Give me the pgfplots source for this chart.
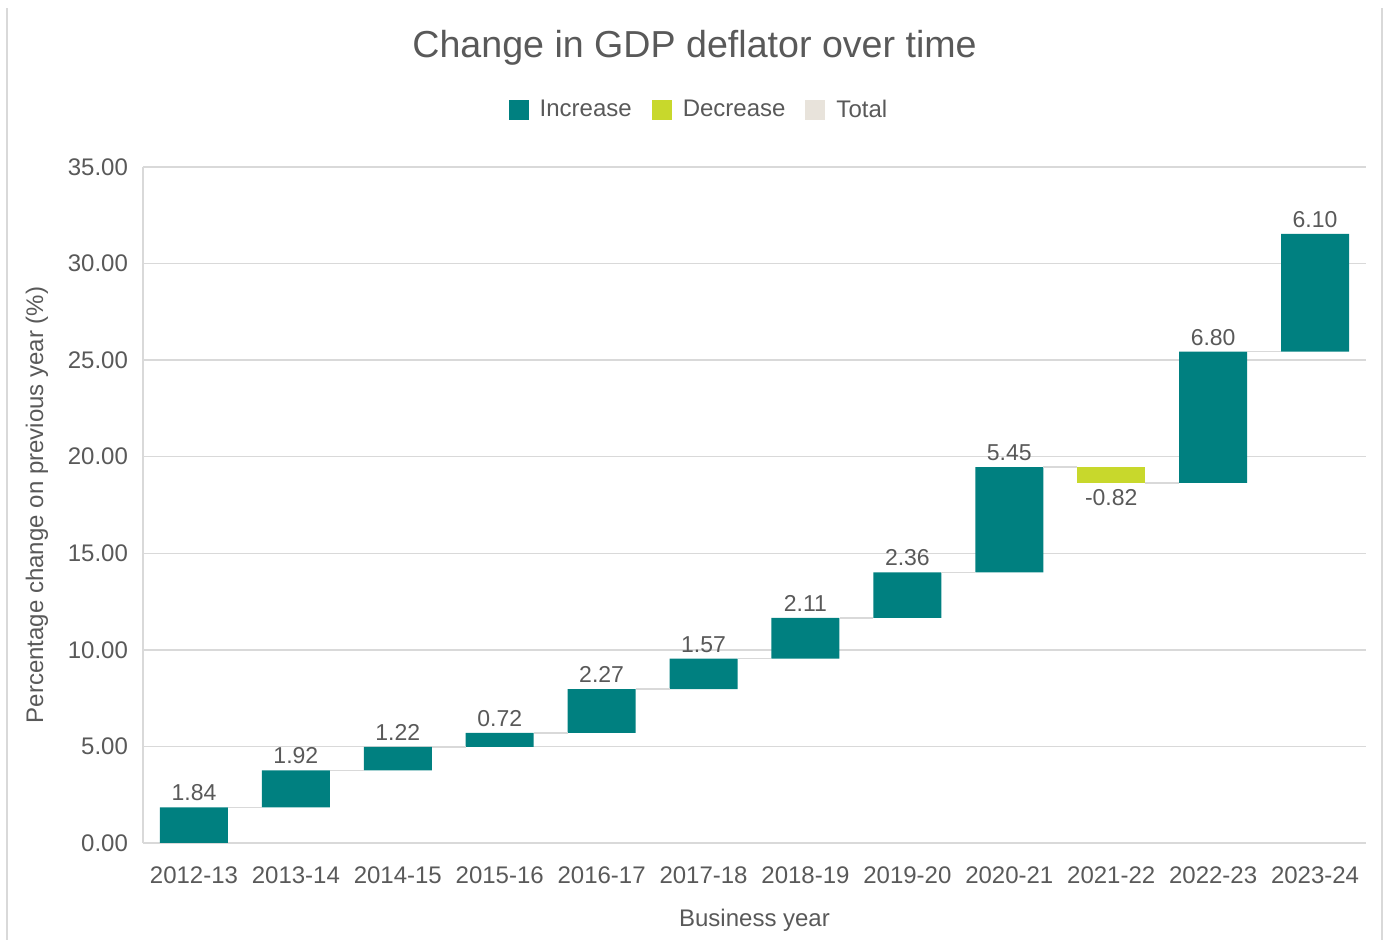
\documentclass[border=0pt]{standalone}
\usepackage{fontspec}
\setmainfont{Liberation Sans}
\usepackage{pgfplots}
\pgfplotsset{compat=1.18}

\definecolor{incr}{RGB}{0,128,128}
\definecolor{decr}{RGB}{200,216,44}
\definecolor{totl}{RGB}{232,227,219}
\definecolor{txt}{RGB}{89,89,89}
\definecolor{grd}{RGB}{217,217,217}

\pgfplotsset{
  frame/.style={width=611.5pt, height=338pt, scale only axis,
    xmin=-0.5, xmax=11.5, ymin=0, ymax=35,
    at={(0,0)}, anchor=south west},
}

\begin{document}
\begin{tikzpicture}
\begin{axis}[frame,
  ybar stacked,
  bar width=34pt,
  axis x line*=bottom, axis y line*=left,
  axis line style={grd, line width=0.75pt},
  ymajorgrids, grid style={grd, line width=0.75pt},
  major tick length=0pt,
  ytick={0,5,...,35},
  xtick={0,...,11},
  xticklabels={2012-13,2013-14,2014-15,2015-16,2016-17,2017-18,2018-19,2019-20,2020-21,2021-22,2022-23,2023-24},
  /pgf/number format/.cd, fixed, fixed zerofill, precision=2, assume math mode=true, /pgfplots/.cd,
  tick label style={font=\fontsize{12}{14}\selectfont, text=txt},
  yticklabel style={xshift=-4pt},
  xticklabel style={yshift=-8.5pt},
  xlabel={Business year},
  ylabel={Percentage change on previous year (\%)},
  label style={font=\fontsize{12}{14}\selectfont, text=txt},
  xlabel style={at={(axis description cs:0.5,0)}, anchor=center, yshift=-38.5pt},
  ylabel style={at={(axis description cs:-0.0867,0.5)}, anchor=center},
  title={Change in GDP deflator over time},
  title style={font=\fontsize{18.8}{22}\selectfont, text=txt,
    at={(axis description cs:0.451,1)}, anchor=center, yshift=53.5pt},
  legend columns=3,
  legend style={draw=none, fill=none, font=\fontsize{12}{14}\selectfont, text=txt,
    at={(axis description cs:0.4554,1)}, anchor=center, yshift=28.5pt,
    /tikz/every odd column/.append style={column sep=3.5pt},
    /tikz/every even column/.append style={column sep=8pt}},
  legend image code/.code={\fill[#1] (0pt,-5pt) rectangle (10pt,5pt);},
]
% invisible base of each floating bar
\addplot[draw=none, fill=none, forget plot] coordinates {
  (0,0) (1,1.84) (2,3.76) (3,4.98) (4,5.70) (5,7.97)
  (6,9.54) (7,11.65) (8,14.01) (9,18.64) (10,18.64) (11,25.44)};
\addplot[draw=none, fill=incr] coordinates {
  (0,1.84) (1,1.92) (2,1.22) (3,0.72) (4,2.27) (5,1.57)
  (6,2.11) (7,2.36) (8,5.45) (9,0) (10,6.80) (11,6.10)};
\addlegendentry{Increase}
\addplot[draw=none, fill=decr] coordinates {
  (0,0) (1,0) (2,0) (3,0) (4,0) (5,0)
  (6,0) (7,0) (8,0) (9,0.82) (10,0) (11,0)};
\addlegendentry{Decrease}
\addlegendimage{draw=none, fill=totl}
\addlegendentry{Total}
\end{axis}

\begin{axis}[frame, hide axis, clip=false]
% connectors between bars
\addplot[grd, line width=0.75pt, unbounded coords=jump] coordinates {
  (0.334,1.84) (0.666,1.84) (0.666,nan)
  (1.334,3.76) (1.666,3.76) (1.666,nan)
  (2.334,4.98) (2.666,4.98) (2.666,nan)
  (3.334,5.70) (3.666,5.70) (3.666,nan)
  (4.334,7.97) (4.666,7.97) (4.666,nan)
  (5.334,9.54) (5.666,9.54) (5.666,nan)
  (6.334,11.65) (6.666,11.65) (6.666,nan)
  (7.334,14.01) (7.666,14.01) (7.666,nan)
  (8.334,19.46) (8.666,19.46) (8.666,nan)
  (9.334,18.64) (9.666,18.64) (9.666,nan)
  (10.334,25.44) (10.666,25.44)};
% value labels
\addplot[draw=none, mark=none, nodes near coords, point meta=explicit symbolic,
  nodes near coords style={anchor=south, inner sep=0pt, yshift=3pt,
    font=\fontsize{11.5}{13}\selectfont, text=txt}] coordinates {
  (0,1.84)[1.84] (1,3.76)[1.92] (2,4.98)[1.22] (3,5.70)[0.72]
  (4,7.97)[2.27] (5,9.54)[1.57] (6,11.65)[2.11] (7,14.01)[2.36]
  (8,19.46)[5.45] (10,25.44)[6.80] (11,31.54)[6.10]};
\addplot[draw=none, mark=none, nodes near coords, point meta=explicit symbolic,
  nodes near coords style={anchor=north, inner sep=0pt, yshift=-3pt,
    font=\fontsize{11.5}{13}\selectfont, text=txt}] coordinates {
  (9,18.64)[-0.82]};
\end{axis}

\draw[grd, line width=0.6pt] (-68pt,-48.5pt) -- (-68pt,417.5pt);
\draw[grd, line width=0.6pt] (619.5pt,-48.5pt) -- (619.5pt,417.5pt);
\pgfresetboundingbox
\path (-71.5pt,-48.5pt) rectangle (621.5pt,421.5pt);
\end{tikzpicture}
\end{document}
